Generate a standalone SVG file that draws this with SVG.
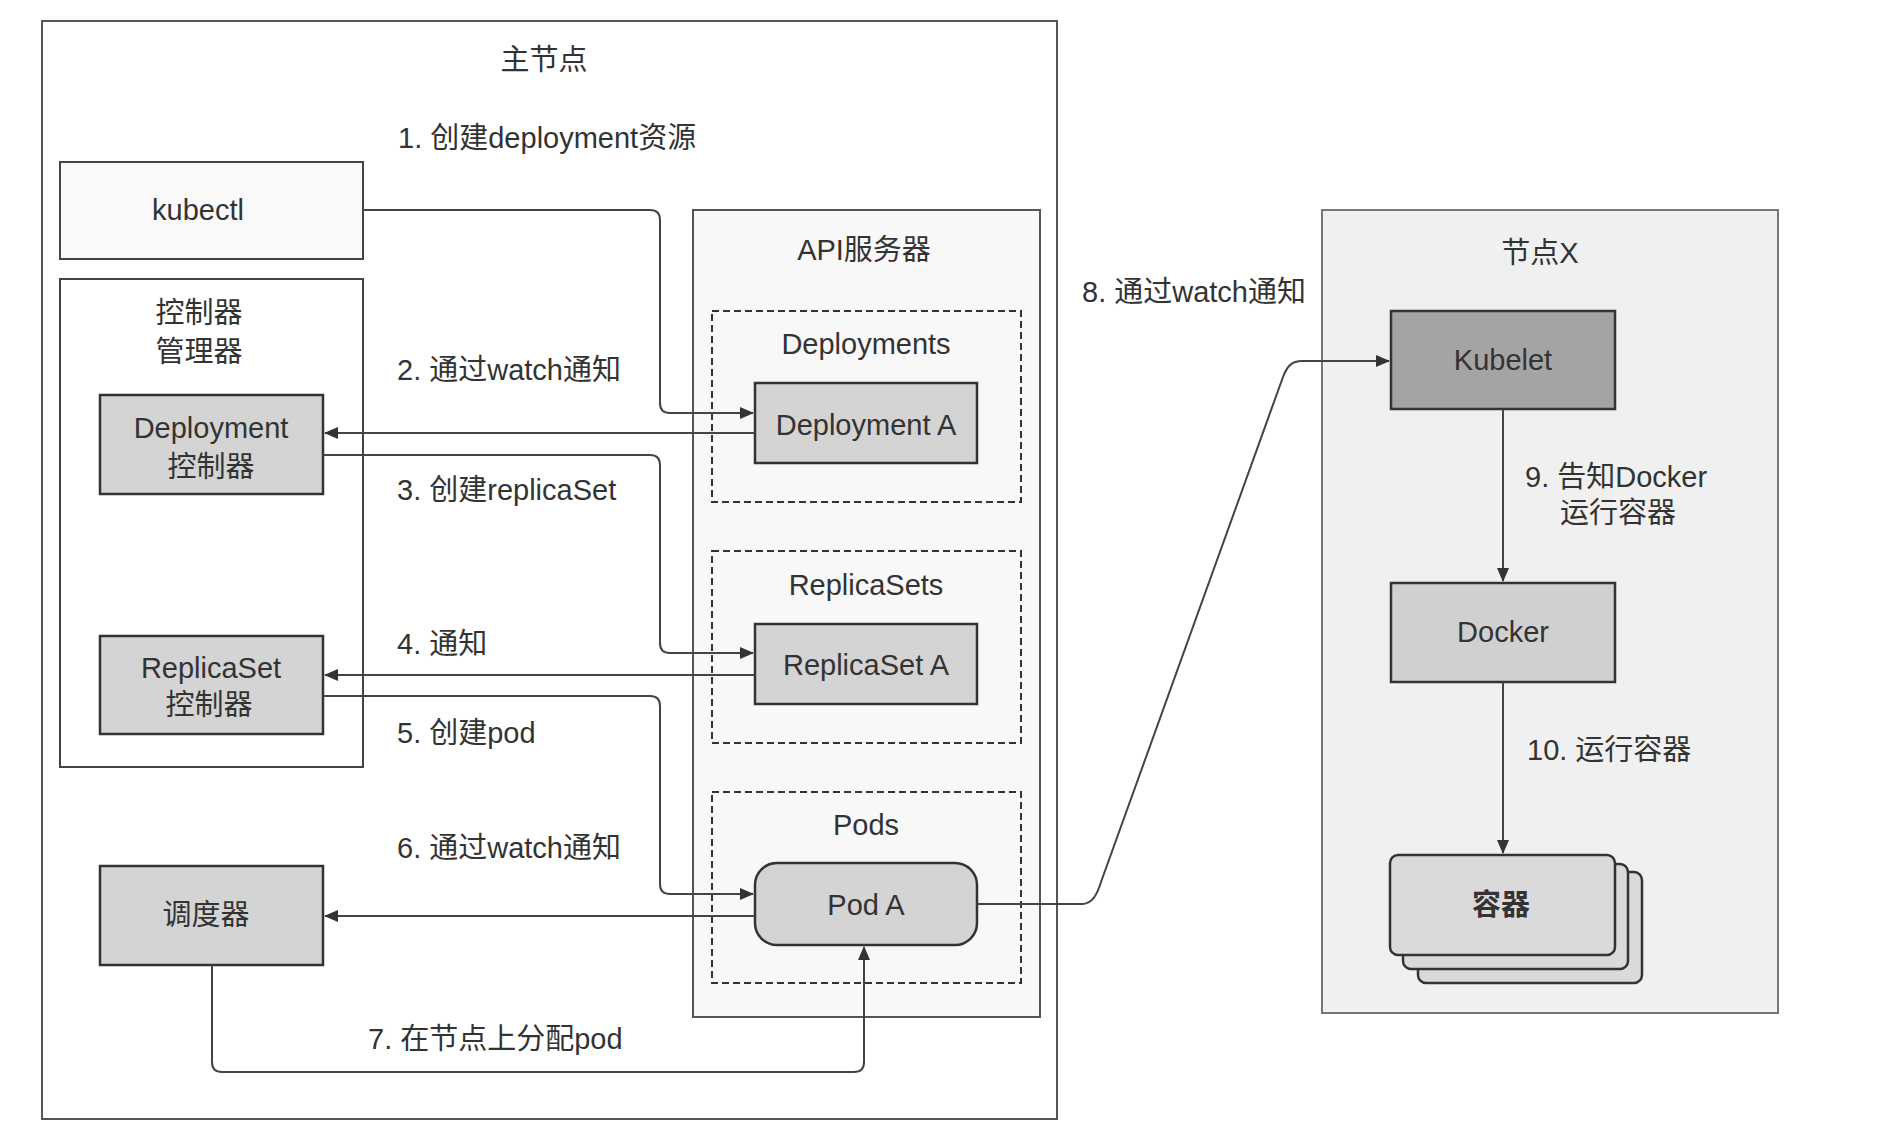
<svg xmlns="http://www.w3.org/2000/svg" width="1878" height="1146" viewBox="0 0 1878 1146">
<defs>
<style>
text{font-family:"Liberation Sans","Noto Sans CJK SC",sans-serif;font-size:29px;fill:#333}
.c{text-anchor:middle}
.b{font-weight:bold}
.frame{fill:#fff;stroke:#555;stroke-width:2}
.box{fill:#f9f9f9;stroke:#444;stroke-width:2}
.comp{fill:#d4d4d4;stroke:#333;stroke-width:2.5}
.dash{fill:none;stroke:#333;stroke-width:2;stroke-dasharray:7 4}
.conn{fill:none;stroke:#444;stroke-width:2}
</style>
<marker id="ah" markerUnits="userSpaceOnUse" markerWidth="14" markerHeight="12" refX="13" refY="6" orient="auto">
<path d="M0,0 L14,6 L0,12 Z" fill="#333"/>
</marker>
</defs>
<rect width="1878" height="1146" fill="#fff"/>

<g id="master">
<rect class="frame" x="42" y="21" width="1015" height="1098"/>
<text class="c" x="544" y="70">主节点</text>
</g>

<g id="kubectl">
<rect class="box" x="60" y="162" width="303" height="97"/>
<text class="c" x="198" y="220">kubectl</text>
</g>

<g id="controller-manager">
<rect class="box" x="60" y="279" width="303" height="488" style="fill:#fff"/>
<text class="c" x="199" y="323">控制器</text>
<text class="c" x="199" y="362">管理器</text>
</g>

<g id="deployment-controller">
<rect class="comp" x="100" y="395" width="223" height="99"/>
<text class="c" x="211" y="438">Deployment</text>
<text class="c" x="211" y="477">控制器</text>
</g>

<g id="replicaset-controller">
<rect class="comp" x="100" y="636" width="223" height="98"/>
<text class="c" x="211" y="678">ReplicaSet</text>
<text class="c" x="209" y="715">控制器</text>
</g>

<g id="scheduler">
<rect class="comp" x="100" y="866" width="223" height="99"/>
<text class="c" x="206" y="925">调度器</text>
</g>

<g id="api-server">
<rect x="693" y="210" width="347" height="807" fill="#f8f8f8" stroke="#555" stroke-width="2"/>
<text class="c" x="864" y="260">API服务器</text>
</g>

<g id="deployments">
<rect class="dash" x="712" y="311" width="309" height="191"/>
<text class="c" x="866" y="354">Deployments</text>
</g>
<g id="deployment-a">
<rect class="comp" x="755" y="383" width="222" height="80"/>
<text class="c" x="866" y="435">Deployment A</text>
</g>

<g id="replicasets">
<rect class="dash" x="712" y="551" width="309" height="192"/>
<text class="c" x="866" y="595">ReplicaSets</text>
</g>
<g id="replicaset-a">
<rect class="comp" x="755" y="624" width="222" height="80"/>
<text class="c" x="866" y="675">ReplicaSet A</text>
</g>

<g id="pods">
<rect class="dash" x="712" y="792" width="309" height="191"/>
<text class="c" x="866" y="835">Pods</text>
</g>
<g id="pod-a">
<rect class="comp" x="755" y="863" width="222" height="82" rx="22"/>
<text class="c" x="866" y="915">Pod A</text>
</g>

<g id="node-x">
<rect x="1322" y="210" width="456" height="803" fill="#f0f0f0" stroke="#777" stroke-width="2"/>
<text class="c" x="1540" y="263">节点X</text>
</g>

<g id="kubelet">
<rect x="1391" y="311" width="224" height="98" fill="#a4a4a4" stroke="#333" stroke-width="2.5"/>
<text class="c" x="1503" y="370">Kubelet</text>
</g>

<g id="docker">
<rect class="comp" x="1391" y="583" width="224" height="99" style="fill:#d0d0d0"/>
<text class="c" x="1503" y="642">Docker</text>
</g>

<g id="containers">
<rect x="1418" y="872" width="224" height="111" rx="8" fill="#dadada" stroke="#333" stroke-width="2.5"/>
<rect x="1403" y="864" width="225" height="105" rx="8" fill="#dadada" stroke="#333" stroke-width="2.5"/>
<rect x="1390" y="855" width="225" height="100" rx="8" fill="#dadada" stroke="#333" stroke-width="2.5"/>
<text class="c b" x="1501" y="915">容器</text>
</g>

<g id="connectors">
<path class="conn" d="M363,210 H650 Q660,210 660,220 V403 Q660,413 670,413 H753" marker-end="url(#ah)"/>
<path class="conn" d="M755,433 H325" marker-end="url(#ah)"/>
<path class="conn" d="M323,455 H650 Q660,455 660,465 V643 Q660,653 670,653 H753" marker-end="url(#ah)"/>
<path class="conn" d="M755,675 H325" marker-end="url(#ah)"/>
<path class="conn" d="M323,696 H650 Q660,696 660,706 V884 Q660,894 670,894 H753" marker-end="url(#ah)"/>
<path class="conn" d="M755,916 H325" marker-end="url(#ah)"/>
<path class="conn" d="M212,965 V1062 Q212,1072 222,1072 H854 Q864,1072 864,1062 V947" marker-end="url(#ah)"/>
<path class="conn" d="M977,904 H1082 C1092,904 1097,895 1101,882 L1283,377 C1287,366 1292,361 1302,361 H1389" marker-end="url(#ah)"/>
<path class="conn" d="M1503,409 V581" marker-end="url(#ah)"/>
<path class="conn" d="M1503,682 V853" marker-end="url(#ah)"/>
</g>

<g id="labels">
<text x="398" y="148">1. 创建deployment资源</text>
<text x="397" y="380">2. 通过watch通知</text>
<text x="397" y="500">3. 创建replicaSet</text>
<text x="397" y="654">4. 通知</text>
<text x="397" y="743">5. 创建pod</text>
<text x="397" y="858">6. 通过watch通知</text>
<text x="368" y="1049">7. 在节点上分配pod</text>
<text x="1082" y="302">8. 通过watch通知</text>
<text x="1525" y="487">9. 告知Docker</text>
<text x="1560" y="523">运行容器</text>
<text x="1527" y="760">10. 运行容器</text>
</g>
</svg>
